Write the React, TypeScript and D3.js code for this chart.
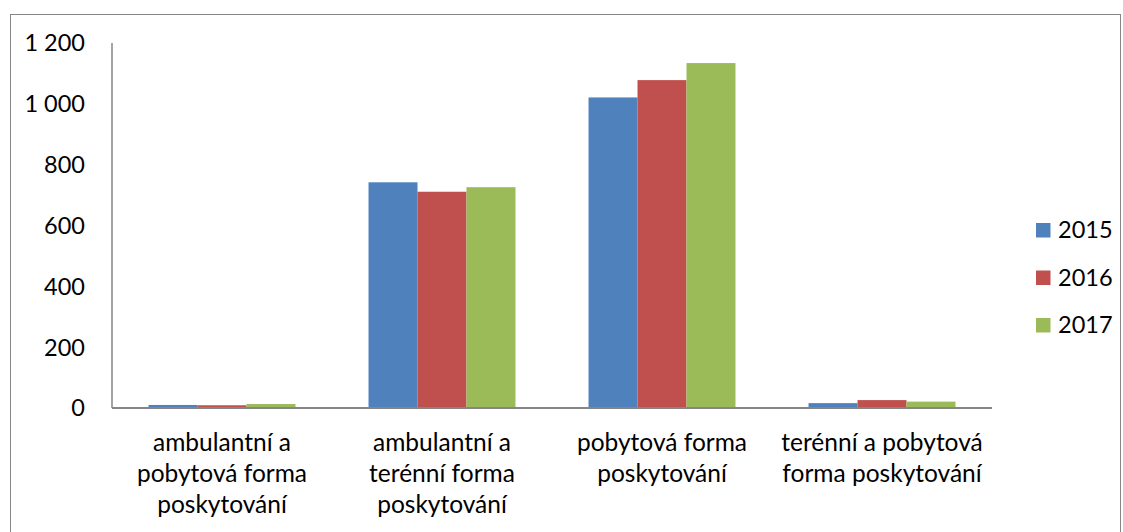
import * as d3 from 'd3';
import React from 'react';

const categories = [
  ['ambulantní a', 'pobytová forma', 'poskytování'],
  ['ambulantní a', 'terénní forma', 'poskytování'],
  ['pobytová forma', 'poskytování'],
  ['terénní a pobytová', 'forma poskytování'],
];
const years = ['2015', '2016', '2017'];
const values2015 = [10, 742, 1021, 16];
const values2016 = [9, 711, 1078, 26];
const values2017 = [13, 726, 1134, 21];
const yTicks = [0, 200, 400, 600, 800, 1000, 1200];
const colors = ['#4f81bd', '#c0504d', '#9bbb59'];

const W = 1123;
const H = 532;
const left = 112;
const right = 992;
const top = 43;
const bottom = 408;
const font = 'Lato, "Open Sans", sans-serif';

export default function App() {
  const series = [values2015, values2016, values2017];
  // gap width 150% of a bar, like the office chart
  const x = d3.scaleBand<number>()
    .domain(d3.range(categories.length))
    .range([left, right])
    .paddingInner(0.332)
    .paddingOuter(0.166);
  const inner = d3.scaleBand<number>()
    .domain(d3.range(years.length))
    .range([0, x.bandwidth()]);
  const y = d3.scaleLinear().domain([0, 1200]).range([bottom, top]);
  const cat = d3.scaleBand<number>()
    .domain(d3.range(categories.length))
    .range([left, right]);
  const fmt = (v: number) => d3.format(',')(v).replace(/,/g, ' ');

  return (
    <svg width={W} height={H} style={{ position: 'absolute', left: 0, top: 0 }}>
      <rect x={10.5} y={14.5} width={1110} height={540} fill="#fff" stroke="#868686" />
      {series.map((vals, s) =>
        vals.map((v, i) => (
          <rect
            key={s + '-' + i}
            x={(x(i) as number) + (inner(s) as number)}
            y={y(v)}
            width={inner.bandwidth()}
            height={bottom - y(v)}
            fill={colors[s]}
          />
        ))
      )}
      <line x1={left} x2={left} y1={top} y2={bottom} stroke="#868686" strokeWidth={1.5} />
      <line x1={left} x2={right} y1={bottom} y2={bottom} stroke="#868686" strokeWidth={2} />
      {yTicks.map((t) => (
        <text key={t} x={85} y={y(t)} dy="0.36em" textAnchor="end" fontFamily={font} fontSize={23.5} fill="#000">
          {fmt(t)}
        </text>
      ))}
      {categories.map((lines, i) => (
        <text key={i} textAnchor="middle" fontFamily={font} fontSize={24.5} fill="#000">
          {lines.map((l, j) => (
            <tspan key={j} x={(cat(i) as number) + cat.bandwidth() / 2} y={451 + j * 31}>
              {l}
            </tspan>
          ))}
        </text>
      ))}
      {years.map((yr, i) => (
        <g key={yr} transform={`translate(1036,${223 + i * 47.5})`}>
          <rect width={14.5} height={14.5} fill={colors[i]} />
          <text x={22} y={7} dy="0.36em" fontFamily={font} fontSize={23.5} fill="#000">
            {yr}
          </text>
        </g>
      ))}
    </svg>
  );
}
